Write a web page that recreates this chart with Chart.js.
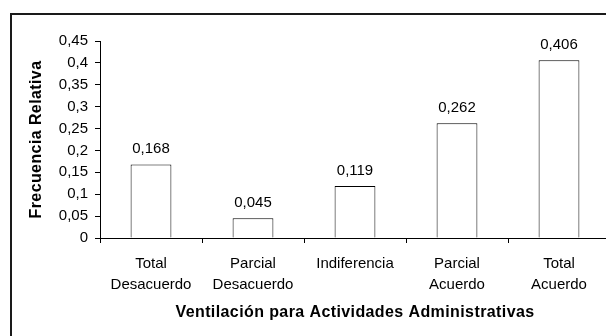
<!DOCTYPE html>
<html>
<head>
<meta charset="utf-8">
<script src="https://cdn.jsdelivr.net/npm/chart.js@4"></script>
<style>
  html, body { margin: 0; padding: 0; background: #fff; overflow: hidden; }
  #wrap { position: relative; width: 606px; height: 336px; overflow: hidden; }
  #frame { position: absolute; left: 10px; top: 13px; width: 700px; height: 400px; border: 2px solid #1a1a1a; box-sizing: border-box; }
  #chart { position: absolute; left: 0; top: 0; }
</style>
</head>
<body>
<div id="wrap">
  <div id="frame"></div>
  <canvas id="chart" width="612" height="336"></canvas>
</div>
<script>
// categories and relative frequencies
const categories = [
  ["Total", "Desacuerdo"],
  ["Parcial", "Desacuerdo"],
  ["Indiferencia"],
  ["Parcial", "Acuerdo"],
  ["Total", "Acuerdo"]
];
const frecuencias = [0.168, 0.045, 0.119, 0.262, 0.406];
const yTicks = [0, 0.05, 0.1, 0.15, 0.2, 0.25, 0.3, 0.35, 0.4, 0.45];

const xTitle = "Ventilación para Actividades Administrativas";
const yTitle = "Frecuencia Relativa";

const FONT = "'Liberation Sans', Arial, sans-serif";
const INK = "#000";

// comma decimal like the original spreadsheet
function fmt(v) {
  return String(Math.round(v * 1000) / 1000).replace(".", ",");
}

// value labels above the bars and the two axis titles
const labelsPlugin = {
  id: "labelsPlugin",
  afterDatasetsDraw(chart) {
    const ctx = chart.ctx;
    const area = chart.chartArea;
    const meta = chart.getDatasetMeta(0);
    ctx.save();
    ctx.fillStyle = INK;
    ctx.font = "15px " + FONT;
    ctx.textAlign = "center";
    ctx.textBaseline = "alphabetic";
    meta.data.forEach((bar, i) => {
      ctx.fillText(fmt(frecuencias[i]), bar.x, bar.y - 11);
    });

    ctx.font = "bold 16px " + FONT;
    ctx.letterSpacing = "0.4px";
    ctx.textBaseline = "middle";
    ctx.fillText(xTitle, (area.left + area.right) / 2, 313);

    ctx.translate(37, (area.top + area.bottom) / 2);
    ctx.rotate(-Math.PI / 2);
    ctx.fillText(yTitle, 0, 0);
    ctx.restore();
  }
};

new Chart(document.getElementById("chart"), {
  type: "bar",
  data: {
    labels: categories,
    datasets: [{
      data: frecuencias,
      backgroundColor: "#fff",
      borderColor: INK,
      borderWidth: 1,
      barPercentage: 0.4,
      categoryPercentage: 1
    }]
  },
  options: {
    responsive: false,
    animation: false,
    events: [],
    layout: { padding: { top: 41, right: 2, left: 0, bottom: 0 } },
    plugins: {
      legend: { display: false },
      tooltip: { enabled: false }
    },
    scales: {
      x: {
        afterFit(scale) { scale.height = 98; },
        grid: {
          drawOnChartArea: false,
          color: INK,
          tickLength: 5,
          offset: true
        },
        border: { color: INK, width: 1 },
        ticks: {
          color: INK,
          font: { family: FONT, size: 15, lineHeight: 1.4 },
          padding: 10,
          maxRotation: 0,
          autoSkip: false
        }
      },
      y: {
        min: 0,
        max: 0.45,
        afterFit(scale) { scale.width = 100; },
        afterBuildTicks(scale) {
          scale.ticks = yTicks.map(v => ({ value: v }));
        },
        grid: {
          drawOnChartArea: false,
          color: INK,
          tickLength: 5
        },
        border: { color: INK, width: 1 },
        ticks: {
          color: INK,
          font: { family: FONT, size: 15 },
          padding: 7,
          callback: v => fmt(v)
        }
      }
    }
  },
  plugins: [labelsPlugin]
});
</script>
</body>
</html>
